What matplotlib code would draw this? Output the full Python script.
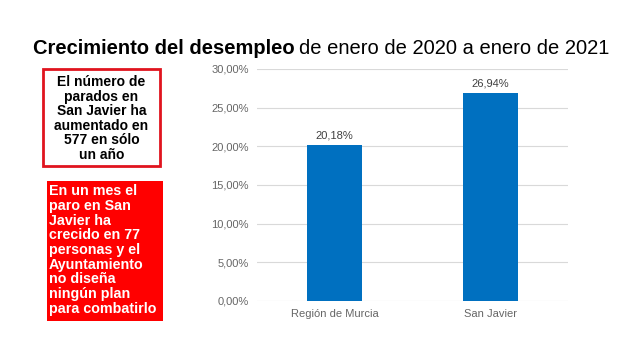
import matplotlib.pyplot as plt
from matplotlib.patches import Rectangle
from matplotlib.ticker import FuncFormatter

plt.rcParams['font.family'] = ['Liberation Sans', 'DejaVu Sans']

# Data
categories = ['Región de Murcia', 'San Javier']
values = [20.18, 26.94]
value_labels = ['20,18%', '26,94%']
yticks = [0, 5, 10, 15, 20, 25, 30]

W, H = 640, 360
fig = plt.figure(figsize=(6.4, 3.6), dpi=100)

# Chart axes in pixel coordinates
x0, x1, ytop, ybot = 257, 568, 69, 301
ax = fig.add_axes([x0 / W, 1 - ybot / H, (x1 - x0) / W, (ybot - ytop) / H])
ax.bar(range(len(categories)), values, width=0.354, color='#0070c0', zorder=3)
for i, (v, lab) in enumerate(zip(values, value_labels)):
    ax.text(i, v + 0.6, lab, ha='center', va='bottom', fontsize=8, color='#404040')
ax.set_xlim(-0.5, 1.5)
ax.set_ylim(0, 30)
ax.set_yticks(yticks)
ax.yaxis.set_major_formatter(FuncFormatter(lambda v, p: f'{v:.2f}'.replace('.', ',') + '%'))
ax.set_xticks(range(len(categories)))
ax.set_xticklabels(categories)
ax.tick_params(axis='both', length=0, labelsize=8, labelcolor='#666666')
ax.tick_params(axis='y', pad=6)
ax.tick_params(axis='x', pad=6)
ax.grid(axis='y', color='#d9d9d9', linewidth=0.8, zorder=0)
for s in ax.spines.values():
    s.set_visible(False)

# Title: bold part + normal part
t1 = fig.text(33 / W, 1 - 48 / H, 'Crecimiento del desempleo', fontsize=14.5,
              fontweight='bold', va='center', ha='left')
fig.canvas.draw()
bb = t1.get_window_extent()
fig.text(bb.x1 / W + 0.007, 1 - 48 / H, 'de enero de 2020 a enero de 2021',
         fontsize=14.5, va='center', ha='left')

# Box 1: white with red border
fig.patches.append(Rectangle((43 / W, 1 - 166 / H), (160 - 43) / W, (166 - 69) / H,
                             transform=fig.transFigure, facecolor='white',
                             edgecolor='#e0141e', linewidth=2))
fig.text(101.5 / W, 1 - 118.5 / H,
         'El número de\nparados en\nSan Javier ha\naumentado en\n577 en sólo\nun año',
         ha='center', va='center', fontsize=10, fontweight='bold', linespacing=1.06)

# Box 2: red filled
fig.patches.append(Rectangle((47 / W, 1 - 321 / H), (163 - 47) / W, (321 - 181) / H,
                             transform=fig.transFigure, facecolor='#ff0000',
                             edgecolor='none'))
fig.text(49 / W, 1 - 250 / H,
         'En un mes el\nparo en San\nJavier ha\ncrecido en 77\npersonas y el\n'
         'Ayuntamiento\nno diseña\nningún plan\npara combatirlo',
         ha='left', va='center', fontsize=10.3, fontweight='bold', color='white',
         linespacing=1.06)

fig.savefig('out.png', dpi=100)
